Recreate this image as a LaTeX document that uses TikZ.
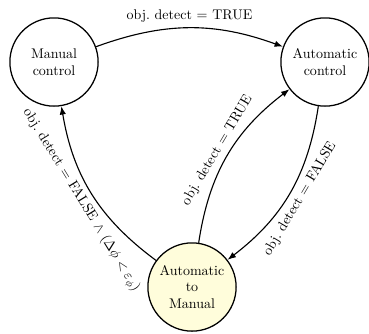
\documentclass[tikz,border=0pt]{standalone}
\usetikzlibrary{arrows.meta}
\begin{document}
\begin{tikzpicture}[x=0.714pt,y=-0.714pt,
  state/.style={circle,draw,line width=0.9pt,minimum size=63pt,inner sep=0pt,align=center,font=\normalsize},
  trans/.style={-{Latex[length=6pt,width=4.5pt]},line width=0.8pt},
  lbl/.style={sloped,font=\normalsize,inner sep=3.3pt}]
\useasboundingbox (0,0) rectangle (369,333);
\node[state] (man) at (54,62) {Manual\\control};
\node[state] (aut) at (325,62) {Automatic\\control};
\node[state,fill=yellow!14] (a2m) at (192,287) {Automatic\\to\\Manual};
\draw[trans] (man) to[bend left=20] node[lbl,above] {obj.\ detect $=$ TRUE} (aut);
\draw[trans] (a2m) to[bend left=22] node[lbl,below] {obj.\ detect $=$ FALSE $\wedge$ ($\Delta\phi<\varepsilon_\phi$)} (man);
\draw[trans] (a2m) to[bend left=22] node[lbl,above] {obj.\ detect $=$ TRUE} (aut);
\draw[trans] (aut) to[bend left=22] node[lbl,below] {obj.\ detect $=$ FALSE} (a2m);
\end{tikzpicture}
\end{document}
